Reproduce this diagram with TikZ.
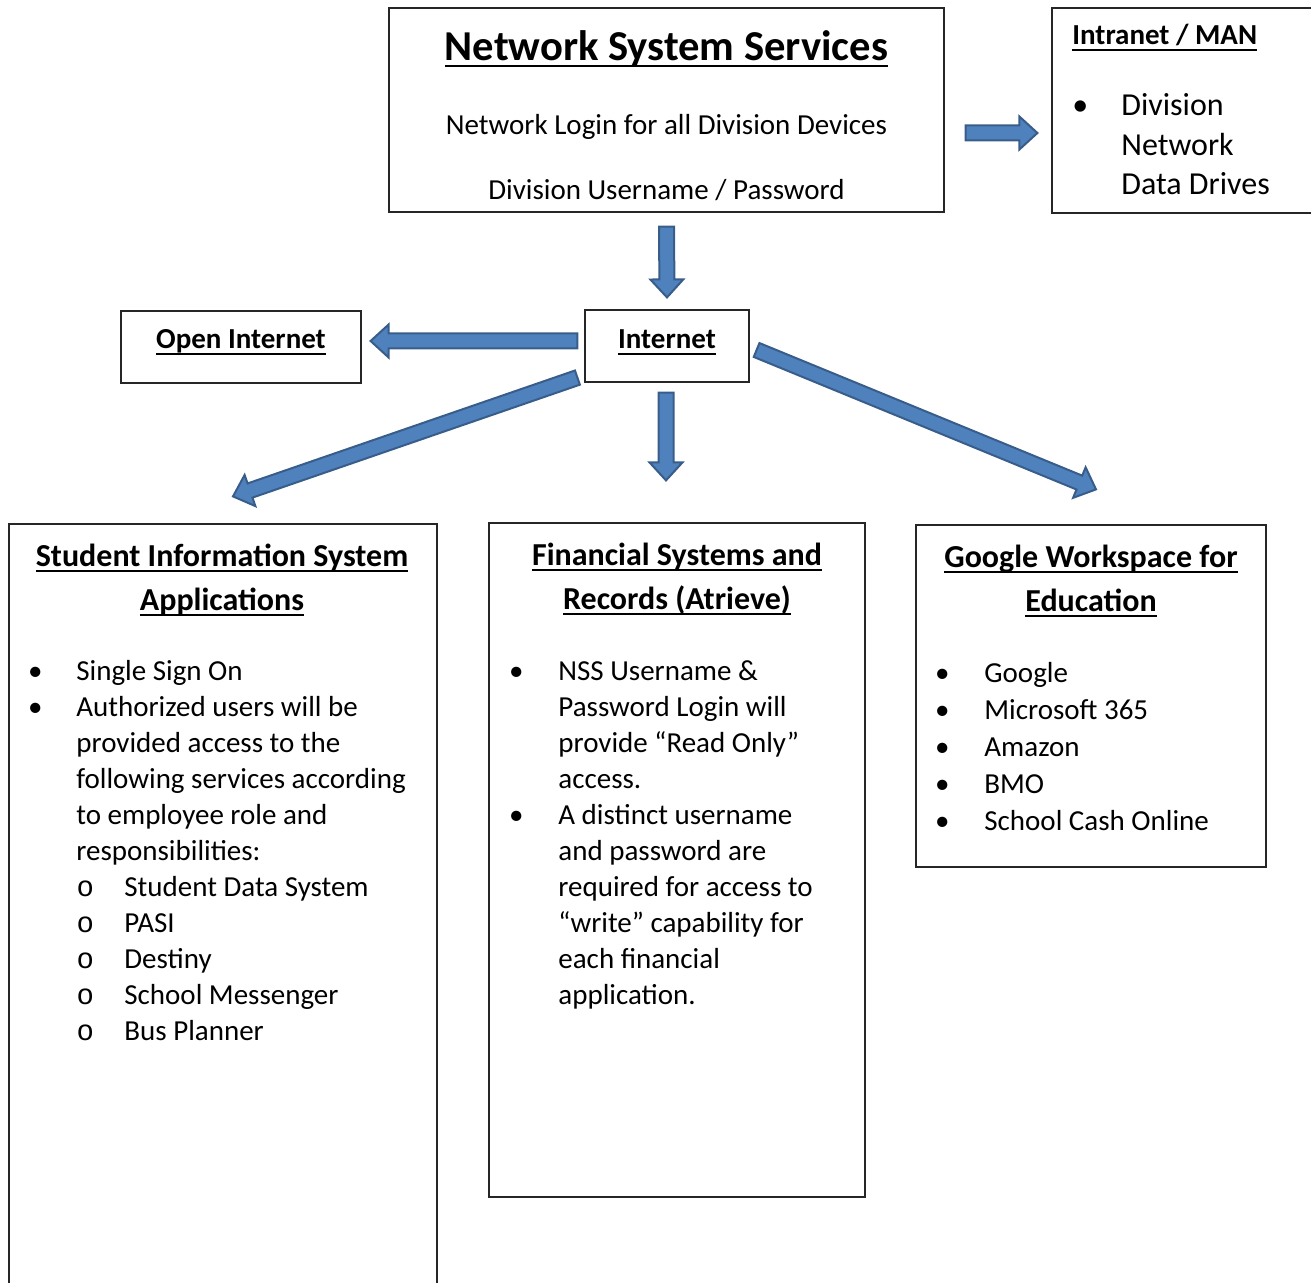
\documentclass[tikz,border=0pt]{standalone}
\usepackage{fontspec}
\setmainfont{Carlito}
\newfontfamily\bulletfont{Liberation Mono}
\usetikzlibrary{calc}

\definecolor{arrowfill}{RGB}{79,129,189}
\definecolor{arrowline}{RGB}{56,93,138}

\newcommand{\bul}{\makebox[0pt]{\textbullet}}
\newcommand{\subbul}{\makebox[0pt]{\bulletfont o}}
\newcommand{\titleline}[1]{\setbox0\hbox{#1}\rlap{\rule[-3pt]{\wd0}{1.1pt}}\box0}
\newcommand{\bodyfont}{\fontsize{14.5pt}{18pt}\selectfont}
\newcommand{\blockarrow}[2]{%
\coordinate (ba-s) at (#1);
\coordinate (ba-e) at (#2);
\coordinate (ba-b) at ($(ba-e)!9pt!(ba-s)$);
\filldraw[fatarrow] ($(ba-s)!3.75pt!90:(ba-e)$) -- ($(ba-b)!3.75pt!90:(ba-e)$)
  -- ($(ba-b)!8.25pt!90:(ba-e)$) -- (ba-e) -- ($(ba-b)!8.25pt!-90:(ba-e)$)
  -- ($(ba-b)!3.75pt!-90:(ba-e)$) -- ($(ba-s)!3.75pt!-90:(ba-e)$) -- cycle;}

\tikzset{
  box/.style = {draw = black!85, line width = .6pt, inner sep = 0},
  fatarrow/.style = {fill = arrowfill, draw = arrowline, line width = 1pt},
  txt/.style = {inner sep = 0, anchor = base west, font = \bodyfont},
  head/.style = {inner sep = 0, anchor = base, font = \fontsize{16pt}{22pt}\selectfont\bfseries}
}

\begin{document}
\begin{tikzpicture}[x = .5pt, y = -.5pt]
\useasboundingbox (0,0) rectangle (1311,1283);

\node[box, minimum width = 277.5pt, minimum height = 102pt] (nss) at (666.5,110) {};
\node[box, minimum width = 139pt, minimum height = 102.5pt] (intranet) at (1191,110.5) {};
\node[box, minimum width = 82pt, minimum height = 36pt] (internet) at (667,346) {};
\node[box, minimum width = 120pt, minimum height = 36pt] (open) at (241,347) {};
\node[box, minimum width = 214pt, minimum height = 390pt] (sis) at (223,914) {};
\node[box, minimum width = 188pt, minimum height = 337pt] (fin) at (677,860) {};
\node[box, minimum width = 175pt, minimum height = 171pt] (google) at (1091,696) {};

\node[head, font = \fontsize{21.3pt}{24pt}\selectfont\bfseries] (nsstitle) at (666.5,61) {\titleline{Network System Services}};
\node[txt, anchor = base] (nsslogin) at (666.5,135) {Network Login for all Division Devices};
\node[txt, anchor = base] (nssuser) at (666.5,200) {Division Username / Password};

\node[txt, anchor = base west, font = \bodyfont\bfseries] (intratitle) at (1072,45) {\titleline{Intranet / MAN}};
\node[txt, font = \fontsize{16pt}{19.6pt}\selectfont] (intralist) at (1080,116) {\begin{tabular}[t]{@{}p{20.5pt}@{}l@{}}
\bul & Division\\
 & Network\\
 & Data Drives
\end{tabular}};

\node[head, font = \bodyfont\bfseries] (internettitle) at (667,349) {\titleline{Internet}};
\node[head, font = \bodyfont\bfseries] (opentitle) at (241,349) {\titleline{Open Internet}};

\node[head] (sistitle) at (222,566) {\begin{tabular}[t]{@{}c@{}}
\titleline{Student Information System}\\
\titleline{Applications}
\end{tabular}};
\node[txt] (sislist) at (35,680) {\begin{tabular}[t]{@{}p{20.5pt}@{}l@{}}
\bul & Single Sign On\\
\bul & Authorized users will be\\
 & provided access to the\\
 & following services according\\
 & to employee role and\\
 & responsibilities:\\
 & \hspace*{4.5pt}\subbul\hspace*{19.5pt}Student Data System\\
 & \hspace*{4.5pt}\subbul\hspace*{19.5pt}PASI\\
 & \hspace*{4.5pt}\subbul\hspace*{19.5pt}Destiny\\
 & \hspace*{4.5pt}\subbul\hspace*{19.5pt}School Messenger\\
 & \hspace*{4.5pt}\subbul\hspace*{19.5pt}Bus Planner
\end{tabular}};

\node[head] (fintitle) at (677,565) {\begin{tabular}[t]{@{}c@{}}
\titleline{Financial Systems and}\\
\titleline{Records (Atrieve)}
\end{tabular}};
\node[txt] (finlist) at (516,680) {\begin{tabular}[t]{@{}p{21pt}@{}l@{}}
\bul & NSS Username \&\\
 & Password Login will\\
 & provide “Read Only”\\
 & access.\\
\bul & A distinct username\\
 & and password are\\
 & required for access to\\
 & “write” capability for\\
 & each financial\\
 & application.
\end{tabular}};

\node[head] (googletitle) at (1091,567) {\begin{tabular}[t]{@{}c@{}}
\titleline{Google Workspace for}\\
\titleline{Education}
\end{tabular}};
\node[txt, font = \fontsize{14.5pt}{18.6pt}\selectfont] (googlelist) at (942,682) {\begin{tabular}[t]{@{}p{21pt}@{}l@{}}
\bul & Google\\
\bul & Microsoft 365\\
\bul & Amazon\\
\bul & BMO\\
\bul & School Cash Online
\end{tabular}};

\blockarrow{$(nss.east)+(21,23)$}{$(intranet.west)+(-14,22.5)$}
\blockarrow{$(nss.south)+(0,14)$}{$(internet.north)+(0,-12)$}
\blockarrow{$(internet.west)+(-7,-5)$}{$(open.east)+(9,-6)$}
\blockarrow{$(internet.south west)+(-7,-5)$}{$(sis.north)+(10,-27)$}
\blockarrow{$(internet.south)+(-1,10)$}{$(fin.north)+(-11,-42)$}
\blockarrow{$(internet.east)+(7,4)$}{$(google.north)+(5,-35)$}
\end{tikzpicture}
\end{document}
